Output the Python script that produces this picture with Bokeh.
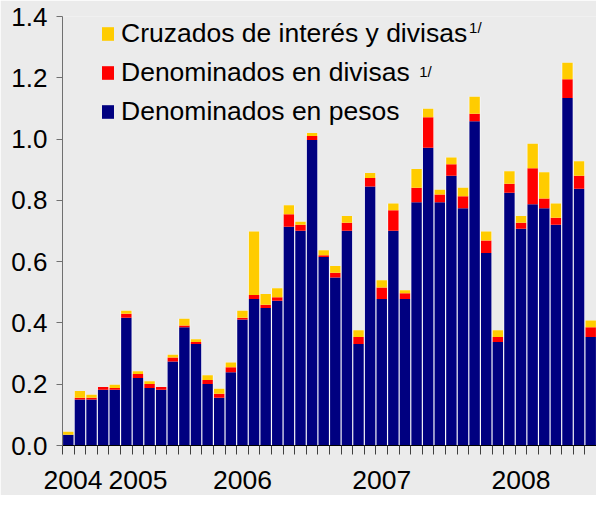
from bokeh.plotting import figure
from bokeh.models import (Range1d, FixedTicker, NumeralTickFormatter, Legend,
                          LegendItem, Label, ColumnDataSource)
from bokeh.embed import file_html
from bokeh.resources import INLINE

# ---- data ----
periodo = list(range(46))
pesos = [0.035, 0.150, 0.150, 0.182, 0.182, 0.417, 0.220, 0.188, 0.182, 0.274,
         0.386, 0.331, 0.201, 0.156, 0.239, 0.411, 0.478, 0.449, 0.472, 0.714,
         0.701, 0.997, 0.615, 0.548, 0.701, 0.331, 0.845, 0.478, 0.701, 0.478,
         0.794, 0.972, 0.794, 0.880, 0.774, 1.058, 0.628, 0.338, 0.825, 0.707,
         0.787, 0.774, 0.720, 1.134, 0.838, 0.354]
divisas = [0.000, 0.006, 0.006, 0.009, 0.006, 0.013, 0.013, 0.013, 0.009, 0.013,
           0.006, 0.007, 0.013, 0.013, 0.016, 0.006, 0.013, 0.010, 0.012, 0.041,
           0.019, 0.013, 0.006, 0.016, 0.026, 0.023, 0.028, 0.038, 0.067, 0.019,
           0.047, 0.099, 0.025, 0.038, 0.039, 0.025, 0.041, 0.016, 0.029, 0.020,
           0.118, 0.032, 0.023, 0.061, 0.042, 0.032]
cruzados = [0.010, 0.022, 0.010, 0.000, 0.010, 0.010, 0.009, 0.009, 0.000, 0.009,
            0.022, 0.009, 0.015, 0.016, 0.016, 0.023, 0.207, 0.035, 0.029, 0.029,
            0.010, 0.010, 0.016, 0.022, 0.022, 0.022, 0.016, 0.023, 0.022, 0.010,
            0.061, 0.028, 0.016, 0.022, 0.028, 0.055, 0.029, 0.022, 0.041, 0.022,
            0.080, 0.086, 0.047, 0.054, 0.048, 0.022]
year_labels = ["2004", "2005", "2006", "2007", "2008"]
year_pos = [0.4, 6, 15, 27, 39]
y_ticks = [0.0, 0.2, 0.4, 0.6, 0.8, 1.0, 1.2, 1.4]
series_names = ["Cruzados de interés y divisas", "Denominados en divisas",
                "Denominados en pesos"]

NAVY, RED, YELLOW = "#000080", "#FF0000", "#FFCC00"
BG = "#EBEBEB"
FONT = "Liberation Sans"

total = [a + b + c for a, b, c in zip(pesos, divisas, cruzados)]
src = ColumnDataSource(dict(x=periodo, pesos=pesos, divisas=divisas,
                            cruzados=cruzados, total=total))

p = figure(width=596, height=495, x_range=Range1d(-0.5, 45.5),
           y_range=Range1d(0, 1.4), output_backend="svg", toolbar_location=None,
           min_border_left=62, min_border_right=0, min_border_top=16,
           min_border_bottom=50, background_fill_color=BG, border_fill_color=BG,
           outline_line_color=None)
p.grid.visible = False

# white backing gives the thin white separators between bars
p.vbar(x="x", top="total", width=1.0, source=src, fill_color="white",
       line_color=None)
rs = p.vbar_stack(["pesos", "divisas", "cruzados"], x="x", width=0.9,
                  source=src, fill_color=[NAVY, RED, YELLOW], line_color=None)

# ---- axes ----
xa = p.xaxis[0]
xa.ticker = FixedTicker(ticks=year_pos, minor_ticks=[i - 0.5 for i in range(47)])
xa.major_label_overrides = {b: l for b, l in zip(year_pos, year_labels)}
xa.major_tick_out = 0
xa.major_tick_in = 0
xa.minor_tick_out = 9
xa.minor_tick_in = 0
xa.minor_tick_line_color = "#404040"
xa.axis_line_color = "black"
xa.major_label_standoff = 16
xa.major_label_text_font = FONT
xa.major_label_text_font_size = "26.5px"
xa.major_label_text_color = "black"

ya = p.yaxis[0]
ya.ticker = FixedTicker(ticks=y_ticks)
ya.formatter = NumeralTickFormatter(format="0.0")
ya.major_tick_out = 6
ya.major_tick_in = 0
ya.minor_tick_out = 0
ya.minor_tick_in = 0
ya.axis_line_color = "#707070"
ya.major_tick_line_color = "#707070"
ya.major_label_standoff = 9
ya.major_label_text_font = FONT
ya.major_label_text_font_size = "26px"
ya.major_label_text_color = "black"

# ---- legend ----
legend = Legend(items=[LegendItem(label=series_names[0], renderers=[rs[2]]),
                       LegendItem(label=series_names[1], renderers=[rs[1]]),
                       LegendItem(label=series_names[2], renderers=[rs[0]])],
                location=(38, 318), padding=0, margin=0, spacing=8,
                glyph_width=15, glyph_height=17, label_standoff=6,
                label_text_font=FONT, label_text_font_size="26.5px",
                label_text_color="black", background_fill_alpha=0,
                border_line_color=None)
p.add_layout(legend)

for sx, sy in [(34.52, 1.364), (30.23, 1.220)]:
    p.add_layout(Label(x=sx, y=sy, text="1/", text_font=FONT,
                       text_font_size="15px", text_color="black",
                       text_baseline="alphabetic"))

open("out.html", "w").write(file_html(p, INLINE))
